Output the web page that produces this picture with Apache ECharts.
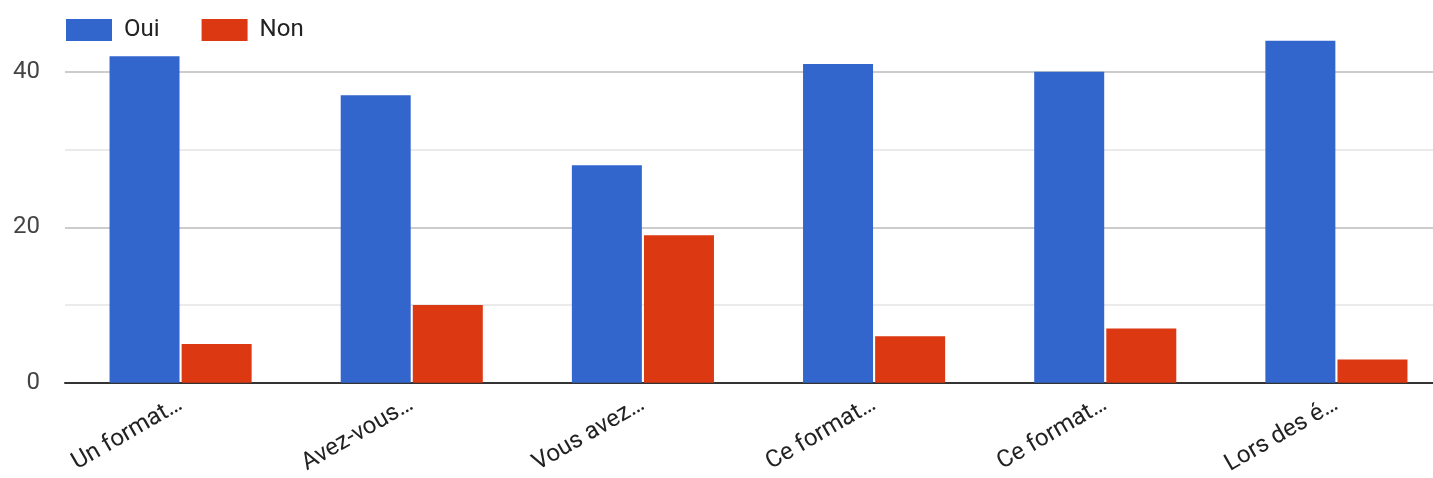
<!DOCTYPE html>
<html>
<head>
<meta charset="utf-8">
<script src="https://cdn.jsdelivr.net/npm/echarts@6/dist/echarts.min.js"></script>
<style>html,body{margin:0;padding:0;background:#fff;overflow:hidden;width:1433px;height:478px}#c{width:1452px;height:478px}</style>
</head>
<body>
<div id="c"></div>
<script>
const categories = ['Un format…', 'Avez-vous…', 'Vous avez…', 'Ce format…', 'Ce format…', 'Lors des é…'];
const oui = [42, 37, 28, 41, 40, 44];
const non = [5, 10, 19, 6, 7, 3];
const seriesNames = ['Oui', 'Non'];
const yLabels = [0, 20, 40];

const FONT = 'Roboto, Arial, sans-serif';
const chart = echarts.init(document.getElementById('c'));
chart.setOption({
  animation: false,
  color: ['#3366cc', '#dc3912'],
  legend: {
    left: 61, top: 13,
    itemWidth: 46, itemHeight: 22, itemGap: 42,
    icon: 'rect',
    textStyle: { fontFamily: FONT, fontSize: 24, color: '#222', padding: [0, 0, 0, 7] },
    data: seriesNames
  },
  grid: { left: 65, right: 0, top: 33, bottom: 95, containLabel: false },
  xAxis: {
    type: 'category',
    data: categories,
    axisLine: { lineStyle: { color: '#333', width: 2 } },
    axisTick: { show: false },
    axisLabel: {
      rotate: 30, interval: 0, margin: 20,
      fontFamily: FONT, fontSize: 24, color: '#222'
    }
  },
  yAxis: {
    type: 'value', min: 0, max: 45, interval: 10,
    axisLine: { show: false }, axisTick: { show: false },
    axisLabel: {
      margin: 25,
      fontFamily: FONT, fontSize: 24, color: '#444',
      formatter: v => yLabels.includes(v) ? String(v) : ''
    },
    splitLine: { show: true, showMaxLine: false, lineStyle: { color: ['#cccccc', '#ebebeb'], width: 2 } }
  },
  series: [
    { name: seriesNames[0], type: 'bar', data: oui, barWidth: 70, barGap: '3%' },
    { name: seriesNames[1], type: 'bar', data: non, barWidth: 70, barGap: '3%' }
  ]
});
</script>
</body>
</html>
